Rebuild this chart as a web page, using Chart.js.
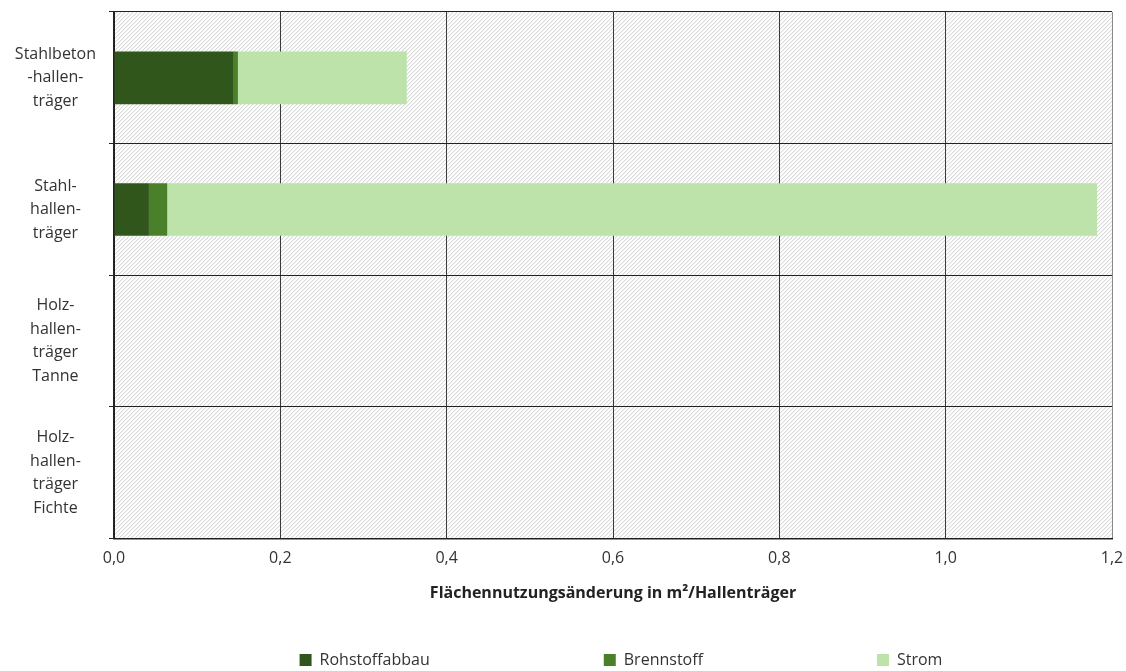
<!DOCTYPE html>
<html>
<head>
<meta charset="utf-8">
<script src="https://cdn.jsdelivr.net/npm/chart.js@4"></script>
<style>
  body { margin: 0; background: #fff; }
  #box { width: 1126px; height: 671px; }
</style>
</head>
<body>
<div id="box"><canvas id="flaecheChart"></canvas></div>
<script>
var kategorien = [
    ['Stahlbeton', '-hallen-', 'träger'],
    ['Stahl-', 'hallen-', 'träger'],
    ['Holz-', 'hallen-', 'träger', 'Tanne'],
    ['Holz-', 'hallen-', 'träger', 'Fichte']
];
var rohstoffabbau = [0.144, 0.042, 0, 0];
var brennstoff = [0.005, 0.022, 0, 0];
var strom = [0.203, 1.118, 0, 0];
var xTicks = [0, 0.2, 0.4, 0.6, 0.8, 1.0, 1.2];

var legendAbstand = 174;

// schraffierter Hintergrund wie im Excel-Diagramm
var tile = document.createElement('canvas');
tile.width = 4;
tile.height = 4;
var tctx = tile.getContext('2d');
tctx.fillStyle = '#ffffff';
tctx.fillRect(0, 0, 4, 4);
for (let x = 0; x < 4; x++) {
    for (let y = 0; y < 4; y++) {
        if ((x + y) % 4 == 0) {
            tctx.fillStyle = '#d8d8d8';
            tctx.fillRect(x, y, 1, 1);
        } else if ((x + y) % 4 == 1) {
            tctx.fillStyle = '#f1f1f1';
            tctx.fillRect(x, y, 1, 1);
        }
    }
}

var hintergrund = {
    id: 'hintergrund',
    afterLayout: function (chart) {
        // Legende soll breite Abstaende haben, aber nicht so hoch sein
        chart.legend.top = chart.height - 11 - 8 - legendAbstand;
        chart.legend.left += 58;
        chart.legend.right += 58;
    },
    beforeDraw: function (chart) {
        var a = chart.chartArea;
        var ctx = chart.ctx;
        ctx.save();
        ctx.fillStyle = ctx.createPattern(tile, 'repeat');
        ctx.fillRect(a.left, a.top, a.right - a.left, a.bottom - a.top);
        ctx.restore();
    }
};

var flaecheCtx = document.getElementById('flaecheChart').getContext('2d');
var schrift = "'Open Sans', 'Noto Sans', sans-serif";

var flaecheChart = new Chart(flaecheCtx, {
    type: 'bar',
    data: {
        labels: kategorien,
        datasets: [
            {
                label: 'Rohstoffabbau',
                data: rohstoffabbau,
                backgroundColor: '#30561c',
                barPercentage: 0.4,
                categoryPercentage: 1
            },
            {
                label: 'Brennstoff',
                data: brennstoff,
                backgroundColor: '#4a8029',
                barPercentage: 0.4,
                categoryPercentage: 1
            },
            {
                label: 'Strom',
                data: strom,
                backgroundColor: '#bde3aa',
                barPercentage: 0.4,
                categoryPercentage: 1
            }
        ]
    },
    options: {
        indexAxis: 'y',
        responsive: true,
        maintainAspectRatio: false,
        animation: false,
        layout: {
            padding: { left: 0, right: 0, top: 12, bottom: 0 }
        },
        scales: {
            x: {
                stacked: true,
                min: 0,
                max: 1.2,
                afterBuildTicks: function (scale) {
                    scale.ticks = xTicks.map(function (v) { return { value: v }; });
                },
                afterFit: function (scale) {
                    scale.paddingRight = 14;
                },
                ticks: {
                    color: '#333',
                    padding: 10,
                    font: { family: schrift, size: 16 },
                    callback: function (v) { return v.toFixed(1).replace('.', ','); }
                },
                grid: {
                    color: function (c) { return c.index == xTicks.length - 1 ? '#8a8a8a' : '#3a3a3a'; },
                    lineWidth: 1,
                    drawTicks: false
                },
                border: { color: '#222', width: 1.5 },
                title: {
                    display: true,
                    text: 'Flächennutzungsänderung in m²/Hallenträger',
                    color: '#222',
                    font: { family: schrift, size: 16, weight: 'bold' },
                    padding: { top: 6, bottom: 0 }
                }
            },
            y: {
                stacked: true,
                afterFit: function (scale) {
                    scale.width = 114;
                    scale.paddingTop = 0;
                    scale.paddingBottom = 0;
                },
                ticks: {
                    color: '#333',
                    autoSkip: false,
                    crossAlign: 'center',
                    padding: 13,
                    font: { family: schrift, size: 16, lineHeight: 1.47 }
                },
                grid: {
                    offset: true,
                    color: '#222',
                    lineWidth: 1,
                    tickLength: 5
                },
                border: { color: '#222', width: 2 }
            }
        },
        plugins: {
            legend: {
                position: 'bottom',
                maxHeight: 68,
                labels: {
                    color: '#333',
                    boxWidth: 12,
                    boxHeight: 12,
                    padding: legendAbstand,
                    font: { family: schrift, size: 16 }
                }
            },
            tooltip: { enabled: false }
        }
    },
    plugins: [hintergrund]
});
</script>
</body>
</html>
